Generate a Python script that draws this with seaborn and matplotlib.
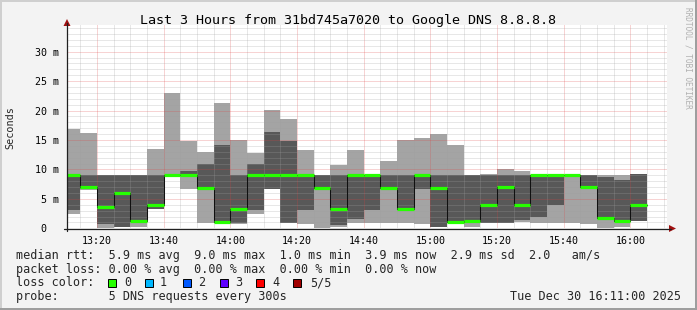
import numpy as np
import pandas as pd
import matplotlib
matplotlib.use("Agg")
import matplotlib.pyplot as plt
import seaborn as sns
from matplotlib.patches import Rectangle, Polygon
from matplotlib.lines import Line2D
from matplotlib.ticker import FixedLocator, MultipleLocator

# ---------------- data (ms) ----------------
interval_start = pd.date_range("2025-12-30 13:10", "2025-12-30 16:00", freq="5min")
ping_min = [2.4, 6.5, 0.1, 0.2, 0.3, 3.2, 9.0, 6.7, 0.96, 0.9, 0.75, 2.4, 6.7, 0.9, 0.74,
            0.0, 0.3, 0.96, 0.95, 0.96, 0.96, 0.74, 0.2, 0.95, 0.3, 0.9, 0.9, 1.1, 0.96, 0.96,
            0.95, 0.74, 0.0, 0.3, 1.25]
ping_lo = [3.1, 6.7, 0.7, 0.3, 1.0, 3.2, 9.0, 9.0, 6.8, 1.0, 0.85, 3.1, 6.7, 0.96, 3.1,
           6.8, 0.6, 1.6, 3.1, 6.8, 3.3, 6.6, 0.28, 0.95, 1.1, 0.96, 0.96, 1.4, 2.0, 4.0,
           9.0, 7.0, 1.6, 1.1, 1.25]
median = [9.0, 7.0, 3.6, 6.0, 1.3, 4.0, 9.0, 9.0, 6.8, 1.0, 3.3, 9.0, 9.0, 9.0, 9.0,
          6.8, 3.3, 9.0, 9.0, 6.8, 3.3, 9.0, 6.8, 1.0, 1.3, 4.0, 7.0, 4.0, 9.0, 9.0,
          9.0, 7.0, 1.8, 1.3, 4.0]
ping_hi = [9.0, 9.0, 9.0, 9.0, 9.0, 9.0, 9.0, 9.8, 10.9, 14.2, 9.0, 10.9, 16.4, 14.8, 9.0,
           9.0, 9.0, 9.0, 9.0, 9.0, 9.0, 9.0, 9.0, 9.0, 9.0, 9.0, 9.0, 9.0, 9.0, 9.0,
           9.0, 9.0, 8.7, 8.2, 9.2]
ping_max = [16.9, 16.2, 9.0, 9.0, 9.0, 13.5, 22.9, 14.8, 13.0, 21.3, 15.0, 12.8, 20.1, 18.6, 13.3,
            9.0, 10.8, 13.3, 9.0, 11.4, 15.0, 15.3, 16.0, 14.2, 9.0, 9.2, 10.1, 9.8, 9.0, 9.0,
            9.0, 9.0, 9.0, 9.0, 9.2]
x_tick_labels = ["13:20", "13:40", "14:00", "14:20", "14:40", "15:00", "15:20", "15:40", "16:00"]
y_tick_values = [0, 5, 10, 15, 20, 25, 30]
y_tick_labels = ["0  ", "5 m", "10 m", "15 m", "20 m", "25 m", "30 m"]
loss_labels = ["0", "1", "2", "3", "4", "5/5"]
loss_colors = ["#26ff00", "#00b8ff", "#0059ff", "#5e00ff", "#ff0000", "#a10000"]

title = "Last 3 Hours from 31bd745a7020 to Google DNS 8.8.8.8"
legend_lines = [
    "median rtt:  5.9 ms avg  9.0 ms max  1.0 ms min  3.9 ms now  2.9 ms sd  2.0   am/s",
    "packet loss: 0.00 % avg  0.00 % max  0.00 % min  0.00 % now",
    "loss color:",
    "probe:       5 DNS requests every 300s",
]
stamp = "Tue Dec 30 16:11:00 2025"

# ---------------- style ----------------
sns.set_style("white")
plt.rcParams["font.family"] = ["DejaVu Sans Mono", "DejaVu Sans"]

W, H = 697, 310
BG = "#f3f3f3"
LIGHT = "#a4a4a4"
DARK = "#585858"


def fx(px):
    return px / W


def fy(py):
    return 1 - py / H


fig = plt.figure(figsize=(W / 100, H / 100), dpi=100, facecolor=BG)
ax = fig.add_axes([fx(67), fy(228.3), fx(667) - fx(67), fy(24.6) - fy(228.3)])
ax.set_facecolor("white")

t0 = pd.Timestamp("2025-12-30 13:10")
x = np.array((interval_start - t0).total_seconds() / 60.0)
pmin = np.array(ping_min)
plo = np.array(ping_lo)
pmed = np.array(median)
phi = np.array(ping_hi)
pmax = np.array(ping_max)

# smoke
ax.bar(x, plo - pmin, bottom=pmin, width=5, align="edge", color=LIGHT, linewidth=0, antialiased=False, zorder=1)
ax.bar(x, phi - plo, bottom=plo, width=5, align="edge", color=DARK, linewidth=0, antialiased=False, zorder=1)
ax.bar(x, pmax - phi, bottom=phi, width=5, align="edge", color=LIGHT, linewidth=0, antialiased=False, zorder=1)

# median step line
df = pd.DataFrame({"t": list(x) + [x[-1] + 5], "ms": list(pmed) + [pmed[-1]]})
sns.lineplot(data=df, x="t", y="ms", drawstyle="steps-post", color="#101010", lw=0.75, ax=ax, zorder=3)
ax.hlines(pmed, x, x + 5, colors=loss_colors[0], lw=2.3, zorder=4)

ax.set_xlim(1, 181)
ax.set_ylim(0, 34.6)
ax.set_xlabel("")
ax.set_ylabel("")

major_x = [10 + 20 * i for i in range(len(x_tick_labels))]
ax.xaxis.set_major_locator(FixedLocator(major_x))
ax.set_xticklabels(x_tick_labels)
ax.xaxis.set_minor_locator(MultipleLocator(5))
ax.yaxis.set_major_locator(FixedLocator(y_tick_values))
ax.set_yticklabels(y_tick_labels)
ax.yaxis.set_minor_locator(MultipleLocator(1))

ax.set_axisbelow(False)
ax.grid(which="minor", color="#a0a0a0", alpha=0.5, lw=0.72, ls=(0, (1, 1)))
ax.grid(which="major", color="#e04040", alpha=0.45, lw=0.72, ls=(0, (1, 1)))
ax.tick_params(axis="both", which="both", direction="out", color="#303030", width=0.7,
               labelsize=7.2, labelcolor="black")
ax.tick_params(axis="both", which="minor", length=1.5)
ax.tick_params(axis="both", which="major", length=2.2)
ax.tick_params(axis="y", pad=3.4)
ax.tick_params(axis="x", pad=3.0)
for s in ax.spines.values():
    s.set_visible(False)

# axis lines with arrows
fig.add_artist(Line2D([fx(64), fx(671)], [fy(228.5), fy(228.5)], color="#202020", lw=0.9))
fig.add_artist(Line2D([fx(67), fx(67)], [fy(231), fy(23)], color="#202020", lw=0.9))
fig.add_artist(Polygon([[fx(669), fy(225)], [fx(676), fy(228.5)], [fx(669), fy(232)]],
                       closed=True, color="#a01010", lw=0))
fig.add_artist(Polygon([[fx(63.5), fy(26)], [fx(67), fy(19)], [fx(70.5), fy(26)]],
                       closed=True, color="#a01010", lw=0))

# texts
fig.text(fx(348), fy(24), title, ha="center", va="baseline", fontsize=9.6, color="black")
fig.text(fx(10), fy(128), "Seconds", rotation=90, ha="center", va="center", fontsize=7.3)
fig.text(fx(688), fy(58), "RRDTOOL / TOBI OETIKER", rotation=270, ha="center", va="center",
         fontsize=5.6, color="#b0b0b0")

baselines = [259, 272.7, 286.4, 300]
for line, b in zip(legend_lines, baselines):
    fig.text(fx(16), fy(b), line, ha="left", va="baseline", fontsize=8.5)
fig.text(fx(680.5), fy(300), stamp, ha="right", va="baseline", fontsize=8.5)

sq_x = [108, 145, 183, 220, 256, 293]
lab_x = [124, 160, 198, 235, 272, 310]
for lab, col, sx, lx in zip(loss_labels, loss_colors, sq_x, lab_x):
    fig.add_artist(Rectangle((fx(sx), fy(286.5)), fx(8), 8 / H, facecolor=col,
                             edgecolor="black", lw=0.7))
    fig.text(fx(lx), fy(286.4), lab, ha="left", va="baseline", fontsize=8.5)

# 3D-ish border
fig.add_artist(Rectangle((0, 1 - 2 / H), 1, 2 / H, facecolor="#cfcfcf", lw=0))
fig.add_artist(Rectangle((0, 0), 2 / W, 1, facecolor="#cfcfcf", lw=0))
fig.add_artist(Rectangle((0, 0), 1, 2 / H, facecolor="#9e9e9e", lw=0))
fig.add_artist(Rectangle((1 - 2 / W, 0), 2 / W, 1, facecolor="#9e9e9e", lw=0))

fig.savefig("out.png", dpi=100, facecolor=BG)
